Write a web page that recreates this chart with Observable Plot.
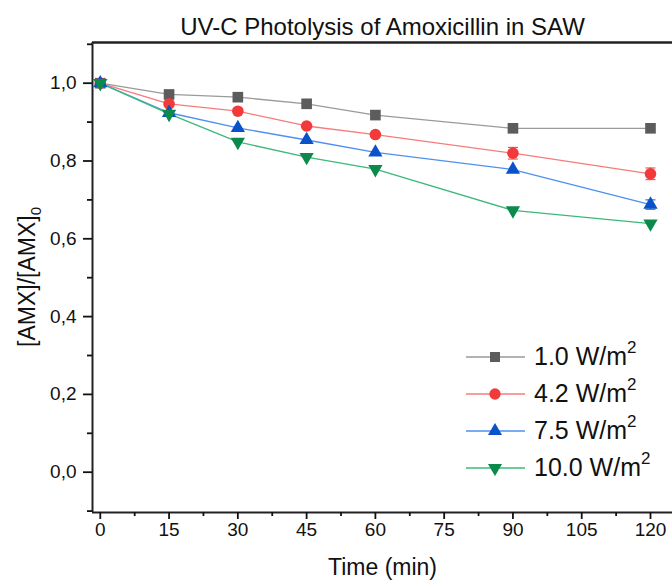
<!DOCTYPE html>
<html><head><meta charset="utf-8">
<script src="https://cdn.jsdelivr.net/npm/d3@7"></script>
<script src="https://cdn.jsdelivr.net/npm/@observablehq/plot@0.6"></script>
<style>
body{margin:0;background:#fff;font-family:"Liberation Sans",Arial,sans-serif;}
#wrap{position:relative;width:672px;height:581px;overflow:hidden;}
#legend{position:absolute;left:464px;top:338px;font-size:25px;color:#111;}
#legend .row{display:flex;align-items:center;height:37px;}
#legend svg{margin-right:6px;}
#legend sup{font-size:17px;vertical-align:12px;line-height:0;}
</style></head>
<body><div id="wrap"><div id="chart"></div><div id="legend"></div></div>
<script>
const title = "UV-C Photolysis of Amoxicillin in SAW";
const xLabel = "Time (min)";
const times = [0, 15, 30, 45, 60, 90, 120];
const seriesNames = ["1.0 W/m²", "4.2 W/m²", "7.5 W/m²", "10.0 W/m²"];
const legendLabels = ["1.0", "4.2", "7.5", "10.0"];
const s1 = [1.0, 0.971, 0.964, 0.947, 0.918, 0.884, 0.884];
const s2 = [1.0, 0.947, 0.928, 0.890, 0.868, 0.820, 0.767];
const s3 = [1.0, 0.924, 0.885, 0.854, 0.822, 0.778, 0.688];
const s4 = [1.0, 0.921, 0.849, 0.810, 0.779, 0.673, 0.639];
const e1 = [0.003, 0.004, 0.003, 0.003, 0.003, 0.004, 0.005];
const e2 = [0.003, 0.006, 0.004, 0.004, 0.004, 0.015, 0.015];
const e3 = [0.003, 0.005, 0.004, 0.004, 0.004, 0.006, 0.012];
const e4 = [0.003, 0.005, 0.004, 0.004, 0.004, 0.004, 0.006];
const markerColors = ["#5c5c5c", "#f23a3a", "#0a52c9", "#0b8a4c"];
const lineColors = ["#9a9a9a", "#f77b7b", "#4f8ff0", "#3db87a"];
const symbols = ["square", "circle", "triangle", "triangle"];
const rotations = [0, 0, 0, 180];
const radii = [6.0, 5.8, 5.3, 5.3];
const xTicks = [0, 15, 30, 45, 60, 75, 90, 105, 120];
const xMinor = [7.5, 22.5, 37.5, 52.5, 67.5, 82.5, 97.5, 112.5];
const yTicks = [0, 0.2, 0.4, 0.6, 0.8, 1.0];
const yTickLabels = ["0,0", "0,2", "0,4", "0,6", "0,8", "1,0"];
const yMinor = [-0.1, 0.1, 0.3, 0.5, 0.7, 0.9, 1.1];

const allSeries = [s1, s2, s3, s4];
const allErr = [e1, e2, e3, e4];
const rows = [];
allSeries.forEach((s, i) => s.forEach((v, j) => rows.push({series: i, name: seriesNames[i], t: times[j], v, e: allErr[i][j]})));

const capSymbol = {draw(ctx, size) { ctx.moveTo(-5, 0); ctx.lineTo(5, 0); }};

const marks = [];
[0,1,2,3].forEach(i => {
  marks.push(Plot.line(rows.filter(d => d.series === i), {x: "t", y: "v", stroke: lineColors[i], strokeWidth: 1.3}));
});
[0,1,2,3].forEach(i => {
  const d = rows.filter(r => r.series === i && r.e >= 0.008);
  marks.push(Plot.ruleX(d, {x: "t", y1: r => r.v - r.e, y2: r => r.v + r.e, stroke: markerColors[i], strokeWidth: 1}));
  marks.push(Plot.dot(d, {x: "t", y: r => r.v - r.e, symbol: capSymbol, stroke: markerColors[i], strokeWidth: 1, r: 3}));
  marks.push(Plot.dot(d, {x: "t", y: r => r.v + r.e, symbol: capSymbol, stroke: markerColors[i], strokeWidth: 1, r: 3}));
});
[0,1,2,3].forEach(i => {
  marks.push(Plot.dot(rows.filter(d => d.series === i), {x: "t", y: "v", symbol: symbols[i], r: radii[i], rotate: rotations[i], fill: markerColors[i], stroke: "none"}));
});

const chart = Plot.plot({
  width: 672, height: 581,
  marginTop: 42, marginBottom: 69, marginLeft: 92, marginRight: 0,
  style: {fontFamily: "Liberation Sans, Arial, sans-serif", color: "#111", background: "#fff"},
  x: {domain: [-1.7, 124.8]},
  y: {domain: [-0.1036, 1.1046]},
  marks: [
    ...marks,
    Plot.ruleY([-0.1036], {stroke: "#222", strokeWidth: 2}),
    Plot.ruleY([1.1046], {stroke: "#222", strokeWidth: 2.5}),
    Plot.ruleX([-1.7], {stroke: "#222", strokeWidth: 2}),
    Plot.axisX({ticks: xTicks, tickSize: 7, strokeWidth: 1.8, text: null, label: null}),
    Plot.axisX({ticks: xMinor, tickSize: 4, strokeWidth: 1.8, text: null, label: null}),
    Plot.axisY({ticks: yTicks, tickSize: 9, strokeWidth: 1.8, text: null, label: null}),
    Plot.axisY({ticks: yMinor, tickSize: 5, strokeWidth: 1.8, text: null, label: null}),
    Plot.text(xTicks, {x: d => d, frameAnchor: "bottom", lineAnchor: "top", dy: 10, fontSize: 19, fill: "#111", text: d => String(d)}),
    Plot.text(yTicks, {y: d => d, frameAnchor: "left", textAnchor: "end", dx: -16, fontSize: 19, fill: "#111", text: (d, i) => yTickLabels[i]}),
    Plot.text([title], {frameAnchor: "top", lineAnchor: "bottom", dy: -8, fontSize: 24, fill: "#111"}),
    Plot.text([xLabel], {frameAnchor: "bottom", lineAnchor: "bottom", dy: 62, fontSize: 23, fill: "#111"})
  ]
});
document.getElementById("chart").appendChild(chart);

// y-axis label with subscript
const ys = chart.scale("y");
const yMid = (ys.apply(1.1046) + ys.apply(-0.1036)) / 2;
const yl = d3.select(chart).append("text")
  .attr("transform", `translate(35,${yMid}) rotate(-90)`)
  .attr("text-anchor", "middle").attr("font-size", 23).attr("fill", "#111");
yl.append("tspan").text("[AMX]/[AMX]");
yl.append("tspan").attr("font-size", 15).attr("dy", 6).text("0");

// legend
const leg = document.getElementById("legend");
legendLabels.forEach((lab, i) => {
  const row = document.createElement("div");
  row.className = "row";
  const sw = d3.create("svg").attr("width", 64).attr("height", 16);
  sw.append("line").attr("x1", 2).attr("x2", 61).attr("y1", 8).attr("y2", 8).attr("stroke", lineColors[i]).attr("stroke-width", 1.3);
  const sym = d3.symbol().type({square: d3.symbolSquare, circle: d3.symbolCircle, triangle: d3.symbolTriangle}[symbols[i]]).size(i === 0 ? 100 : i === 1 ? 100 : 85);
  sw.append("path").attr("d", sym()).attr("fill", markerColors[i]).attr("transform", `translate(31,8) rotate(${rotations[i]})`);
  row.appendChild(sw.node());
  const t = document.createElement("span");
  t.innerHTML = lab + " W/m<sup>2</sup>";
  row.appendChild(t);
  leg.appendChild(row);
});
</script></body></html>
